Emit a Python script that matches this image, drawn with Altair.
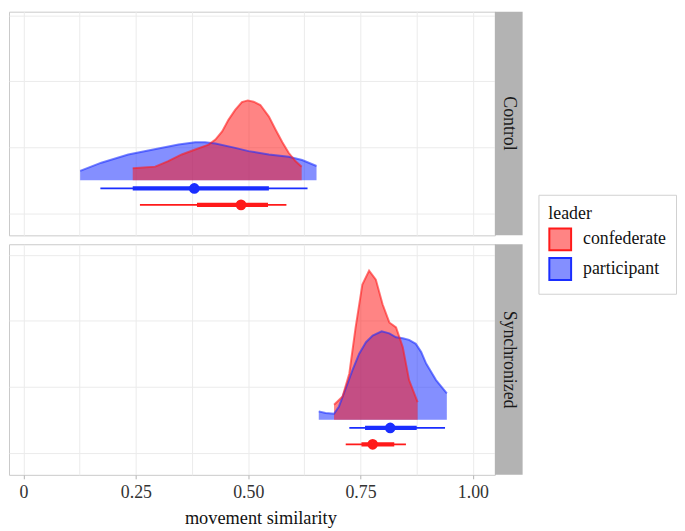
import altair as alt
import pandas as pd

leaders = ["confederate", "participant"]
leader_colors = ["#FF1A1A", "#1A2EFF"]
leader_fills = ["rgba(255,20,20,0.52)", "rgba(20,40,255,0.52)"]
conditions = ["Control", "Synchronized"]

# ---- density curves (x = movement similarity, h = density height in row units)
ctrl_part_x = [0.126, 0.173, 0.233, 0.300, 0.345, 0.382, 0.404, 0.427, 0.471, 0.501, 0.546, 0.590, 0.620, 0.652]
ctrl_part_h = [0.28, 0.53, 0.78, 0.96, 1.08, 1.15, 1.15, 1.11, 0.98, 0.88, 0.78, 0.71, 0.61, 0.43]
ctrl_conf_x = [0.243, 0.293, 0.322, 0.352, 0.382, 0.412, 0.427, 0.442, 0.456, 0.471, 0.486, 0.499,
               0.512, 0.527, 0.546, 0.561, 0.576, 0.590, 0.605, 0.619]
ctrl_conf_h = [0.36, 0.41, 0.58, 0.78, 0.93, 1.08, 1.23, 1.48, 1.83, 2.13, 2.37, 2.42,
               2.38, 2.28, 1.93, 1.53, 1.15, 0.83, 0.58, 0.41]
sync_part_x = [0.657, 0.672, 0.691, 0.702, 0.717, 0.732, 0.747, 0.762, 0.777, 0.797, 0.814,
               0.829, 0.844, 0.858, 0.873, 0.885, 0.896, 0.918, 0.942]
sync_part_h = [0.25, 0.20, 0.18, 0.40, 0.95, 1.50, 2.00, 2.35, 2.55, 2.68, 2.62,
               2.50, 2.47, 2.42, 2.30, 2.05, 1.70, 1.20, 0.80]
sync_conf_x = [0.691, 0.710, 0.725, 0.739, 0.754, 0.769, 0.784, 0.799, 0.814, 0.829, 0.844, 0.858, 0.877]
sync_conf_h = [0.45, 0.70, 1.40, 2.80, 4.10, 4.52, 4.25, 3.50, 2.95, 2.80, 2.20, 1.20, 0.53]

# ---- point intervals
iv_condition = ["Control", "Control", "Synchronized", "Synchronized"]
iv_leader = ["participant", "confederate", "participant", "confederate"]
iv_row = [0.75, 0.25, 0.75, 0.25]
iv_lo95 = [0.171, 0.259, 0.725, 0.717]
iv_hi95 = [0.632, 0.585, 0.938, 0.851]
iv_lo66 = [0.243, 0.386, 0.760, 0.752]
iv_hi66 = [0.546, 0.544, 0.875, 0.825]
iv_point = [0.380, 0.484, 0.816, 0.777]

BASELINE = 1.0
XMIN, XMAX = -0.0324, 1.049
YMIN = -0.675
X_GRID = [0, 0.125, 0.25, 0.375, 0.5, 0.625, 0.75, 0.875, 1.0]
Y_GRID = [0, 1, 2, 3, 4, 5, 6]

rows = []
for cond, lead, xs, hs in [
    ("Control", "participant", ctrl_part_x, ctrl_part_h),
    ("Control", "confederate", ctrl_conf_x, ctrl_conf_h),
    ("Synchronized", "participant", sync_part_x, sync_part_h),
    ("Synchronized", "confederate", sync_conf_x, sync_conf_h),
]:
    for x, h in zip(xs, hs):
        rows.append({"condition": cond, "leader": lead, "x": x, "top": BASELINE + h, "base": BASELINE})
dens = pd.DataFrame(rows)
intervals = pd.DataFrame({
    "condition": iv_condition, "leader": iv_leader, "row": iv_row,
    "lo95": iv_lo95, "hi95": iv_hi95, "lo66": iv_lo66, "hi66": iv_hi66, "point": iv_point,
})

W = 491
STRIP_W = 28
FONT = "Liberation Serif"


def legend():
    return alt.Legend(title="leader", orient="none", legendX=535, legendY=185)


def panel(cond, h, ytop, show_axis):
    d = dens[dens.condition == cond]
    iv = intervals[intervals.condition == cond]
    if show_axis:
        xaxis = alt.Axis(
            values=X_GRID, grid=True, domain=False, title="movement similarity",
            labelExpr="abs(datum.value*4 - round(datum.value*4)) > 0.01 ? '' : (datum.value == 0 ? '0' : format(datum.value, '.2f'))",
            tickOpacity={"condition": {"test": "abs(datum.value*4 - round(datum.value*4)) > 0.01", "value": 0}, "value": 1},
            tickSize=4, tickColor="#b3b3b3", labelFontSize=18, labelColor="#333333", labelPadding=5,
            labelFont=FONT, titleFont=FONT, titleFontSize=18.5, titleFontWeight="normal",
            titleColor="#111111", titlePadding=7, titleX=254, labelFlush=False,
        )
    else:
        xaxis = alt.Axis(values=X_GRID, grid=True, labels=False, ticks=False, domain=False, title=None,
                         minExtent=0, maxExtent=0)
    yaxis = alt.Axis(values=Y_GRID, grid=True, labels=False, ticks=False, domain=False, title=None,
                     minExtent=0, maxExtent=0)
    xs = alt.Scale(domain=[XMIN, XMAX], nice=False, zero=False)
    ys = alt.Scale(domain=[YMIN, ytop], nice=False, zero=False)
    fill = alt.Fill("leader:N", scale=alt.Scale(domain=leaders, range=leader_fills), legend=legend())
    stroke = alt.Stroke("leader:N", scale=alt.Scale(domain=leaders, range=leader_colors), legend=legend())

    def area_layer(lead):
        return alt.Chart(d[d.leader == lead]).mark_area(fillOpacity=1, strokeWidth=0).encode(
            x=alt.X("x:Q", scale=xs, axis=xaxis),
            y=alt.Y("top:Q", scale=ys, axis=yaxis),
            y2="base:Q",
            fill=fill,
        )

    def line_layer(lead):
        return alt.Chart(d[d.leader == lead]).mark_line(strokeWidth=2, strokeOpacity=0.6).encode(
            x=alt.X("x:Q", scale=xs), y=alt.Y("top:Q", scale=ys), stroke=stroke,
        )

    thin = alt.Chart(iv).mark_rule(strokeWidth=1.6).encode(
        x=alt.X("lo95:Q", scale=xs), x2="hi95:Q", y=alt.Y("row:Q", scale=ys), stroke=stroke)
    thick = alt.Chart(iv).mark_rule(strokeWidth=4.5).encode(
        x=alt.X("lo66:Q", scale=xs), x2="hi66:Q", y=alt.Y("row:Q", scale=ys), stroke=stroke)
    pts = alt.Chart(iv).mark_point(shape="circle", filled=False, size=14, strokeWidth=7, opacity=1).encode(
        x=alt.X("point:Q", scale=xs), y=alt.Y("row:Q", scale=ys), stroke=stroke)

    strip_df = pd.DataFrame({"label": [cond]})
    strip = alt.Chart(strip_df).mark_rect(color="#b3b3b3").encode(
        x=alt.value(W), x2=alt.value(W + STRIP_W), y=alt.value(0), y2=alt.value(h))
    strip_txt = alt.Chart(strip_df).mark_text(angle=90, fontSize=18, font=FONT, color="#1a1a1a",
                                               align="center", baseline="middle").encode(
        x=alt.value(W + STRIP_W / 2), y=alt.value(h / 2), text="label:N")

    return alt.layer(
        area_layer("participant"), area_layer("confederate"),
        line_layer("participant"), line_layer("confederate"),
        thin, thick, pts, strip, strip_txt,
    ).properties(width=W, height=h)


top = panel("Control", 226, YMIN + 226 / 33.3, False)
bottom = panel("Synchronized", 233, YMIN + 233 / 33.3, True)

chart = alt.vconcat(top, bottom, spacing=9, bounds="flush").resolve_scale(y="independent").properties(
    padding={"left": 0, "top": 0, "right": 0, "bottom": 0}
).configure(font=FONT).configure_view(
    stroke="#c9c9c9", strokeWidth=1
).configure_axis(
    gridColor="#ebebeb", gridWidth=1
).configure_legend(
    titleFont=FONT, labelFont=FONT, titleFontSize=18, labelFontSize=18,
    titleFontWeight="normal", titleColor="#111111", labelColor="#111111",
    symbolType="square", symbolSize=484, symbolStrokeWidth=2,
    padding=10, strokeColor="#d0d0d0", rowPadding=0, labelOffset=11, titlePadding=5,
)

chart.save("out.html", embed_options={"renderer": "svg", "actions": False})
